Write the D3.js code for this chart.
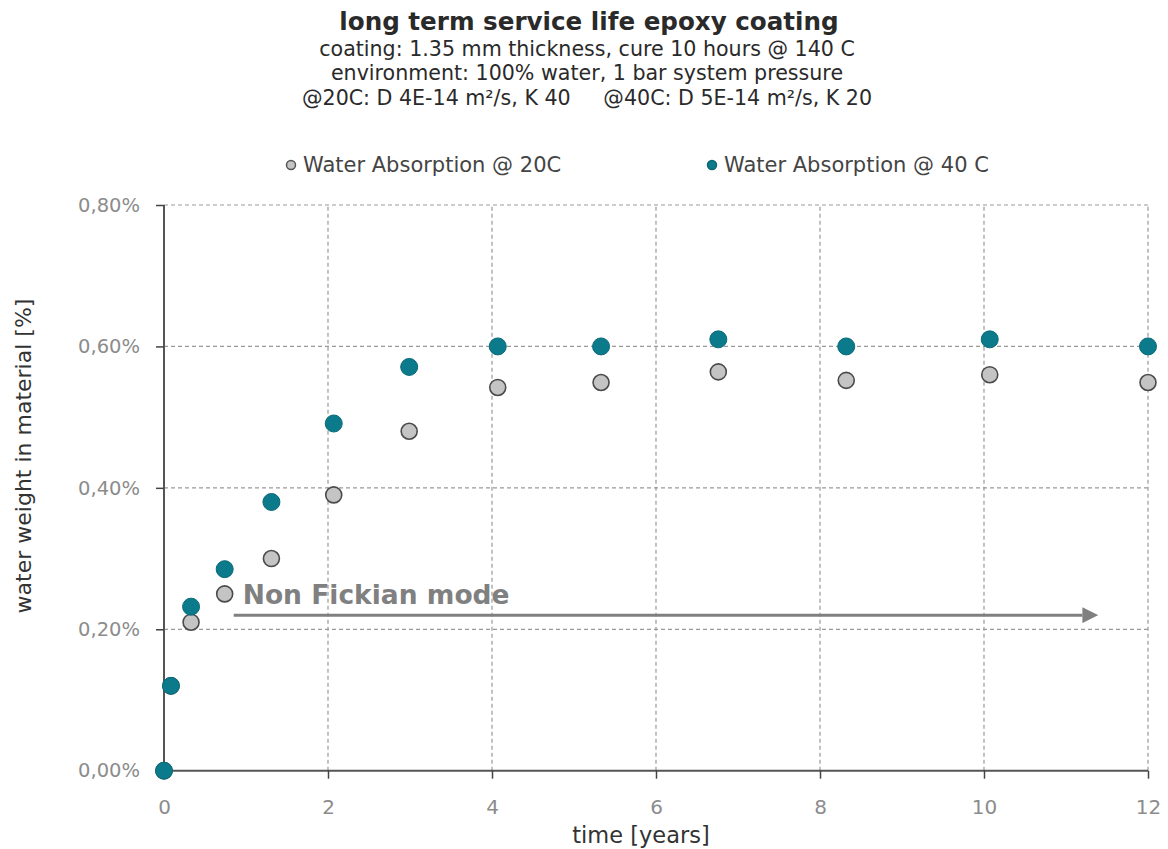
<!DOCTYPE html>
<html><head><meta charset="utf-8">
<script src="https://cdn.jsdelivr.net/npm/d3@7"></script>
<style>
body{margin:0;background:#fff;}
svg{display:block;font-family:"DejaVu Sans",Verdana,sans-serif;}
</style></head>
<body><svg id="c" width="1168" height="849"></svg>
<script>
const titleText = "long term service life epoxy coating";
const subtitleLines = [
  "coating: 1.35 mm thickness, cure 10 hours @ 140 C",
  "environment: 100% water, 1 bar system pressure",
  "@20C: D 4E-14 m²/s, K 40     @40C: D 5E-14 m²/s, K 20"
];
const seriesNames = ["Water Absorption @ 20C", "Water Absorption @ 40 C"];
const timeYears = [0, 0.085, 0.33, 0.74, 1.31, 2.07, 2.99, 4.07, 5.33, 6.76, 8.32, 10.07, 12];
const abs20 = [0, 0.12, 0.21, 0.25, 0.30, 0.39, 0.48, 0.542, 0.549, 0.564, 0.552, 0.56, 0.549];
const abs40 = [0, 0.12, 0.232, 0.285, 0.38, 0.491, 0.571, 0.60, 0.60, 0.61, 0.60, 0.61, 0.60];
const xTicks = [0, 2, 4, 6, 8, 10, 12];
const yTicks = [0, 0.2, 0.4, 0.6, 0.8];
const annotationText = "Non Fickian mode";
const arrowFrom = 0.85, arrowTo = 11.2, arrowLevel = 0.22;

const svg = d3.select("#c");
const x = d3.scaleLinear().domain([0, 12]).range([164, 1148]);
const y = d3.scaleLinear().domain([0, 0.8]).range([770.7, 205]);
const fmtY = v => d3.format(".2f")(v).replace(".", ",") + "%";

// grid
const grid = svg.append("g");
grid.selectAll(".gx").data(xTicks.filter(d => d > 0)).enter().append("line")
  .attr("x1", d => x(d)).attr("x2", d => x(d)).attr("y1", y(0)).attr("y2", y(0.8))
  .attr("stroke", "#999").attr("stroke-width", 1.2).attr("stroke-dasharray", "4,3");
grid.selectAll(".gy").data(yTicks.filter(d => d > 0)).enter().append("line")
  .attr("x1", x(0)).attr("x2", x(12)).attr("y1", d => y(d)).attr("y2", d => y(d))
  .attr("stroke", "#999").attr("stroke-width", 1.2).attr("stroke-dasharray", "4,3");

// axes
const xAxis = d3.axisBottom(x).tickValues(xTicks).tickSize(8).tickPadding(21).tickFormat(d3.format("d"));
const gx = svg.append("g").attr("transform", `translate(0,${y(0)})`).call(xAxis);
gx.select(".domain").attr("stroke", "#555").attr("stroke-width", 2).attr("d", `M${x(0)},0H${x(12)}`);
gx.selectAll(".tick line").attr("stroke", "#444").attr("stroke-width", 1.5);
gx.selectAll(".tick text").attr("fill", "#8c8c8c").attr("font-size", 20).attr("font-family", "DejaVu Sans");

const yAxis = d3.axisLeft(y).tickValues(yTicks).tickSize(8).tickPadding(16).tickFormat(fmtY);
const gy = svg.append("g").attr("transform", `translate(${x(0)},0)`).call(yAxis);
gy.select(".domain").attr("stroke", "#555").attr("stroke-width", 2).attr("d", `M0,${y(0.8)}V${y(0)}`);
gy.selectAll(".tick line").attr("stroke", "#444").attr("stroke-width", 1.5);
gy.selectAll(".tick text").attr("fill", "#8c8c8c").attr("font-size", 19.5).attr("font-family", "DejaVu Sans");

// axis titles
svg.append("text").attr("x", 641).attr("y", 843).attr("text-anchor", "middle")
  .attr("font-size", 22.5).attr("fill", "#333").text("time [years]");
svg.append("text").attr("transform", "translate(31,456) rotate(-90)").attr("text-anchor", "middle")
  .attr("font-size", 22).attr("fill", "#333").text("water weight in material [%]");

// title
svg.append("text").attr("x", 589).attr("y", 30).attr("text-anchor", "middle")
  .attr("font-size", 24.6).attr("font-weight", "bold").attr("fill", "#2a2a2a").text(titleText);
svg.selectAll(".sub").data(subtitleLines).enter().append("text")
  .attr("x", 587).attr("y", (d, i) => 55.5 + i * 24.5).attr("text-anchor", "middle")
  .attr("xml:space", "preserve").style("white-space", "pre")
  .attr("font-size", 20.6).attr("fill", "#2a2a2a").text(d => d);

// legend
const legX = [291, 712];
const legColors = [{f: "#c4c4c4", s: "#555"}, {f: "#0b7a8b", s: "#0b6676"}];
legX.forEach((lx, i) => {
  svg.append("circle").attr("cx", lx).attr("cy", 165).attr("r", 4.5)
    .attr("fill", legColors[i].f).attr("stroke", legColors[i].s).attr("stroke-width", 1.5);
  svg.append("text").attr("x", lx + 12).attr("y", 172).attr("font-size", 21).attr("fill", "#444").text(seriesNames[i]);
});

// annotation
svg.append("defs").append("marker").attr("id", "ah").attr("viewBox", "0 0 10 10")
  .attr("refX", 0).attr("refY", 5).attr("markerWidth", 5.3).attr("markerHeight", 5.3)
  .attr("markerUnits", "strokeWidth").attr("orient", "auto")
  .append("path").attr("d", "M0,0L10,5L0,10Z").attr("fill", "#808080");
svg.append("line").attr("x1", x(arrowFrom)).attr("x2", x(arrowTo)).attr("y1", y(arrowLevel)).attr("y2", y(arrowLevel))
  .attr("stroke", "#808080").attr("stroke-width", 3).attr("marker-end", "url(#ah)");
svg.append("text").attr("x", x(0.96)).attr("y", 604).attr("font-size", 26.5).attr("font-weight", "bold")
  .attr("fill", "#808080").text(annotationText);

// points
const pts20 = timeYears.map((t, i) => ({t, v: abs20[i]}));
const pts40 = timeYears.map((t, i) => ({t, v: abs40[i]}));
svg.append("g").selectAll("circle").data(pts20).enter().append("circle")
  .attr("cx", d => x(d.t)).attr("cy", d => y(d.v)).attr("r", 8)
  .attr("fill", "#c4c4c4").attr("stroke", "#4a4a4a").attr("stroke-width", 1.6);
svg.append("g").selectAll("circle").data(pts40).enter().append("circle")
  .attr("cx", d => x(d.t)).attr("cy", d => y(d.v)).attr("r", 8.5)
  .attr("fill", "#0b7a8b").attr("stroke", "#0a6a79").attr("stroke-width", 1);
</script></body></html>
